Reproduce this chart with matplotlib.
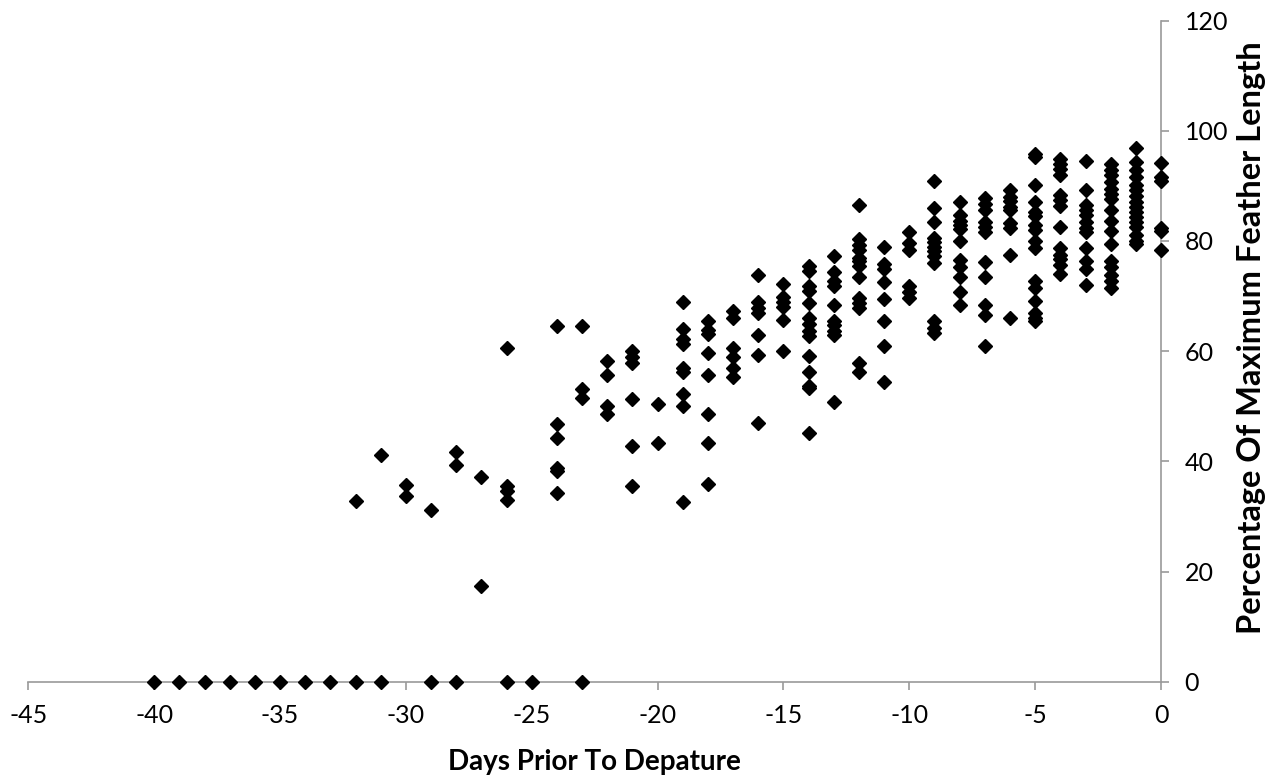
import matplotlib
matplotlib.use("Agg")
import matplotlib.pyplot as plt

# days with zero feather length
zero_days = [-40, -39, -38, -37, -36, -35, -34, -33, -32, -31, -29, -28, -26, -25, -23]

# days with measured (non-zero) feather length
day_cols = [-32, -31, -30, -29, -28, -27, -26, -24, -23, -22, -21, -20, -19, -18,
            -17, -16, -15, -14, -13, -12, -11, -10, -9, -8, -7, -6, -5, -4, -3,
            -2, -1, 0]

pct_by_day = [
    [32.8],
    [41.2],
    [35.8, 33.7],
    [31.2],
    [41.8, 39.4],
    [37.1, 17.4],
    [60.6, 35.6, 34.7, 33.1],
    [64.5, 46.8, 44.2, 38.9, 38.3, 34.2],
    [64.5, 53.1, 51.6],
    [58.3, 55.6, 50.1, 48.6],
    [60.0, 58.9, 57.9, 51.3, 42.8, 35.6],
    [50.4, 43.3],
    [68.9, 64.1, 62.3, 61.3, 57.0, 56.3, 52.3, 50.1, 32.6],
    [65.4, 63.9, 63.1, 59.7, 55.7, 48.6, 43.4, 36.0],
    [67.3, 66.1, 60.6, 58.9, 57.0, 55.3],
    [73.9, 68.9, 67.8, 66.9, 62.9, 59.3, 47.0],
    [72.2, 69.9, 69.0, 68.0, 65.7, 60.0],
    [75.4, 74.5, 71.8, 71.0, 68.7, 66.0, 64.9, 63.7, 62.7, 59.1, 56.3, 53.7, 53.3, 45.2],
    [77.3, 74.4, 72.8, 71.8, 68.3, 65.4, 64.7, 63.7, 62.9, 50.8],
    [86.6, 80.4, 79.3, 78.4, 77.0, 76.3, 75.4, 73.4, 69.6, 68.7, 67.8, 57.9, 56.3],
    [79.0, 75.9, 75.0, 72.6, 69.4, 65.5, 60.9, 54.5],
    [81.6, 79.6, 78.4, 71.8, 70.8, 69.6],
    [90.8, 85.9, 83.4, 80.5, 79.8, 79.0, 78.1, 77.2, 76.0, 65.4, 64.2, 63.3],
    [87.1, 84.7, 83.6, 82.9, 82.2, 80.0, 76.6, 75.2, 73.4, 70.8, 68.3],
    [87.8, 86.8, 85.6, 83.5, 82.6, 81.7, 76.1, 73.4, 68.4, 66.6, 60.9],
    [89.2, 88.0, 87.2, 86.2, 85.6, 83.2, 82.4, 77.4, 66.1],
    [95.7, 95.3, 90.1, 87.1, 85.3, 84.6, 82.9, 82.0, 80.0, 78.8, 72.8, 71.4, 69.2, 66.9, 66.0, 65.4],
    [94.9, 94.0, 93.1, 91.9, 88.4, 87.4, 86.4, 82.6, 78.8, 77.5, 76.7, 75.7, 74.0],
    [94.6, 89.2, 86.6, 85.6, 84.7, 83.5, 82.4, 81.7, 78.7, 76.3, 74.9, 72.0],
    [93.9, 92.8, 91.9, 90.7, 89.5, 88.6, 87.7, 85.6, 83.6, 81.8, 79.4, 76.3, 75.2, 73.9, 72.7, 71.4],
    [96.9, 94.3, 92.8, 91.6, 90.2, 89.2, 88.2, 87.1, 86.2, 85.3, 84.4, 83.5, 82.6, 81.1, 80.0, 79.4],
    [94.2, 91.6, 90.9, 82.4, 81.8, 78.4],
]

x_ticks = list(range(-45, 1, 5))
y_ticks = list(range(0, 121, 20))

plt.rcParams['font.family'] = ['Lato', 'DejaVu Sans']
plt.rcParams['axes.unicode_minus'] = False

xs = list(zero_days)
ys = [0] * len(zero_days)
for d, vals in zip(day_cols, pct_by_day):
    xs += [d] * len(vals)
    ys += vals

fig = plt.figure(figsize=(12.76, 7.77), dpi=100)
ax = fig.add_axes([0.0222, 0.1223, 0.8877, 0.8513])

ax.plot(xs, ys, linestyle='none', marker='D', markersize=6.8,
        color='black', clip_on=False, zorder=3)

ax.set_xlim(-45, 0)
ax.set_ylim(0, 120)
ax.set_xticks(x_ticks)
ax.set_yticks(y_ticks)

axis_gray = '#9a9a9a'
for side in ['top', 'left']:
    ax.spines[side].set_visible(False)
for side in ['right', 'bottom']:
    ax.spines[side].set_color(axis_gray)
    ax.spines[side].set_linewidth(1.2)

ax.yaxis.tick_right()
ax.tick_params(axis='x', direction='out', length=6, width=1.2, color=axis_gray,
               labelsize=18, pad=10)
ax.tick_params(axis='y', direction='out', length=6, width=1.2, color=axis_gray,
               labelsize=18, pad=11)

ax.set_xlabel("Days Prior To Depature", fontsize=20, fontweight='bold')
ax.xaxis.set_label_coords(0.5, -0.102)
ax.yaxis.set_label_position('right')
ax.set_ylabel("Percentage Of Maximum Feather Length", fontsize=23.5, fontweight='bold',
              rotation=90)
ax.yaxis.set_label_coords(1.067, 0.52)

fig.savefig("out.png", dpi=100)
